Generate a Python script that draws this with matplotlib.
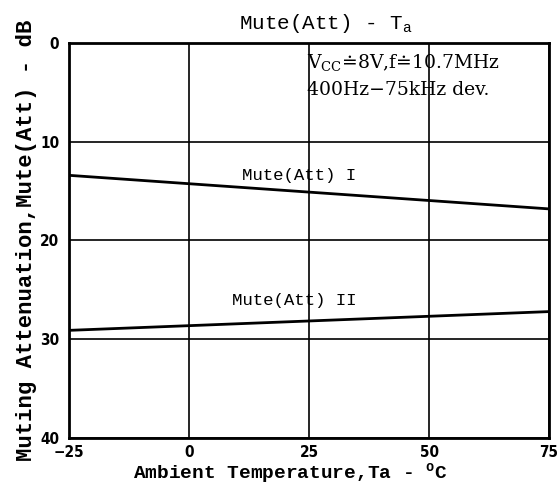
import numpy as np
import matplotlib.pyplot as plt

# temperature (deg C) and muting attenuation (dB)
temp = [-25, 75]
mute_1 = [13.4, 16.8]
mute_2 = [29.1, 27.2]

xticks = [-25, 0, 25, 50, 75]
yticks = [0, 10, 20, 30, 40]

mono = 'Liberation Mono'
serif = ['DejaVu Serif', 'DejaVu Sans']

fig = plt.figure(figsize=(5.58, 4.86), dpi=100)
ax = fig.add_axes([0.1237, 0.0988, 0.8603, 0.8127])

ax.plot(temp, mute_1, color='black', lw=2.0)
ax.plot(temp, mute_2, color='black', lw=2.0)

ax.set_xlim(-25, 75)
ax.set_ylim(40, 0)
ax.set_xticks(xticks)
ax.set_yticks(yticks)
ax.grid(True, color='black', lw=1.2)
ax.tick_params(length=0, pad=7)
ax.tick_params(axis='x', pad=5)
for lab in ax.get_xticklabels() + ax.get_yticklabels():
    lab.set_fontweight('bold')
    lab.set_fontsize(11)
    lab.set_fontfamily('DejaVu Sans')
    lab.set_fontstretch('condensed')
for s in ax.spines.values():
    s.set_linewidth(2.0)

ax.set_title('Mute(Att) - T$_{\\mathregular{a}}$', family=mono, fontsize=15, pad=10, x=0.535)
ax.set_xlabel('Ambient Temperature,Ta - $^{\\mathregular{o}}$C', family=mono, fontsize=14,
              fontweight='bold')
ax.xaxis.set_label_coords(0.46, -0.058)
ax.set_ylabel('Muting Attenuation,Mute(Att) - dB', family=mono, fontsize=16,
              fontweight='bold', labelpad=2)

ax.text(0.495, 0.975, 'V$_{\\mathregular{CC}}$\u22508V,f\u225010.7MHz', transform=ax.transAxes,
        family=serif, fontsize=13.5, va='top', ha='left')
ax.text(0.495, 0.905, '400Hz\u221275kHz dev.', transform=ax.transAxes,
        family=serif, fontsize=13.5, va='top', ha='left')

ax.text(11.0, 14.2, 'Mute(Att) I', family=mono, fontsize=12.5, ha='left', va='bottom')
ax.text(9.0, 26.8, 'Mute(Att) II', family=mono, fontsize=12.5, ha='left', va='bottom')

plt.savefig('out.png', dpi=100)
